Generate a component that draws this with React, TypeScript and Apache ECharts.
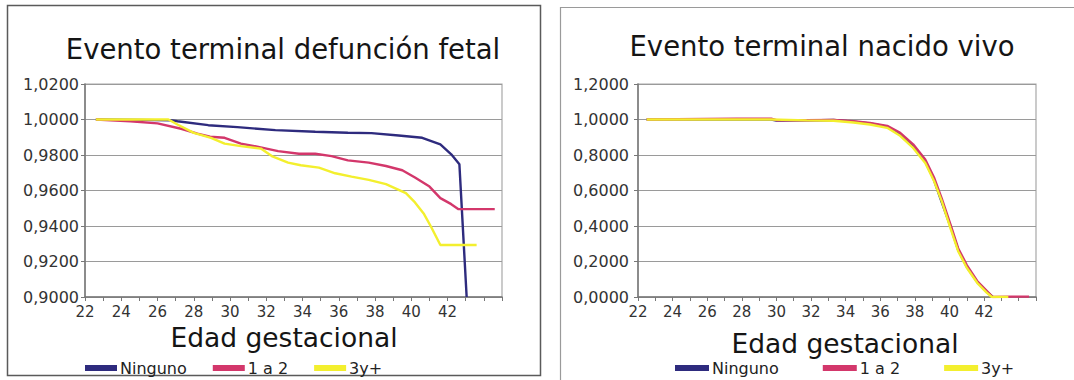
import React, { useEffect, useRef } from "react";
import * as echarts from "echarts";

// ---- Data (week of gestation, survival) ----
const seriesNames = ["Ninguno", "1 a 2", "3y+"];
const seriesColors = ["#2e2b7e", "#d3376b", "#f3ef2e"];

const xTickLabels = [22, 24, 26, 28, 30, 32, 34, 36, 38, 40, 42];

// Evento terminal defunción fetal
const fetalNinguno: [number, number][] = [
  [22.6, 1.0], [25.0, 0.9998], [26.8, 0.9995], [27.1, 0.999], [28.8, 0.9968],
  [30.4, 0.9957], [32.5, 0.994], [34.7, 0.9931], [36.5, 0.9925], [37.8, 0.9923],
  [39.3, 0.991], [40.6, 0.9897], [41.6, 0.986], [42.2, 0.9804], [42.65, 0.9748],
  [43.05, 0.9],
];
const fetal1a2: [number, number][] = [
  [22.6, 1.0], [24.5, 0.999], [26.0, 0.9978], [27.3, 0.9948], [28.2, 0.992],
  [28.9, 0.9903], [29.7, 0.9897], [30.6, 0.9864], [31.5, 0.9847], [32.65, 0.9822],
  [33.8, 0.9807], [34.7, 0.9807], [35.6, 0.9794], [36.5, 0.977], [37.65, 0.9757],
  [38.6, 0.9738], [39.5, 0.9714], [40.2, 0.9673], [41.0, 0.9622], [41.6, 0.9557],
  [42.2, 0.9523], [42.6, 0.9495], [44.6, 0.9495],
];
const fetal3ymas: [number, number][] = [
  [22.6, 1.0], [26.6, 1.0], [27.1, 0.9972], [28.0, 0.9925], [28.95, 0.9897],
  [29.7, 0.9864], [30.6, 0.985], [31.7, 0.9836], [32.3, 0.9794], [33.2, 0.9757],
  [33.9, 0.9742], [34.9, 0.9729], [35.8, 0.9697], [36.7, 0.9678], [37.65, 0.966],
  [38.6, 0.9636], [39.3, 0.9604], [39.7, 0.9585], [40.2, 0.9533], [40.7, 0.9467],
  [41.1, 0.9393], [41.6, 0.9293], [43.6, 0.9293],
];

// Evento terminal nacido vivo
const vivoNinguno: [number, number][] = [
  [22.5, 1.0], [29.7, 1.0], [30.0, 0.994], [31.75, 0.995], [33.3, 0.997],
  [34.45, 0.988], [35.4, 0.978], [36.4, 0.96], [37.15, 0.92], [37.9, 0.85],
  [38.6, 0.765], [39.1, 0.66], [39.55, 0.535], [40.05, 0.4], [40.5, 0.265],
  [41.0, 0.17], [41.6, 0.085], [42.15, 0.03], [42.5, 0.0],
];
const vivo1a2: [number, number][] = [
  [22.5, 1.0], [27.7, 1.005], [29.7, 1.005], [30.0, 0.996], [31.75, 0.996],
  [33.3, 0.998], [34.45, 0.99], [35.4, 0.98], [36.4, 0.964], [37.15, 0.925],
  [37.9, 0.86], [38.6, 0.775], [39.1, 0.675], [39.55, 0.555], [40.05, 0.41],
  [40.5, 0.275], [41.0, 0.18], [41.6, 0.09], [42.15, 0.035], [42.5, 0.0],
  [43.6, 0.002], [44.6, 0.002],
];
const vivo3ymas: [number, number][] = [
  [22.5, 1.0], [27.7, 1.0], [29.7, 1.0], [31.75, 0.995], [33.3, 0.993],
  [34.45, 0.983], [35.4, 0.972], [36.4, 0.953], [37.15, 0.908], [37.9, 0.84],
  [38.6, 0.755], [39.1, 0.655], [39.55, 0.54], [40.05, 0.39], [40.5, 0.258],
  [41.0, 0.165], [41.6, 0.08], [42.15, 0.025], [42.45, 0.0], [43.4, 0.0],
];

const titles = ["Evento terminal defunción fetal", "Evento terminal nacido vivo"];
const axisTitle = "Edad gestacional";

const FONT = "DejaVu Sans";

export default function App() {
  const ref = useRef<HTMLDivElement>(null);

  useEffect(() => {
    document.body.style.margin = "0";
    const chart = echarts.init(ref.current!, undefined, { renderer: "svg" });

    const fmtY = (v: number) => v.toFixed(4).replace(".", ",");
    const fmtX = (v: number) =>
      xTickLabels.indexOf(Math.round(v)) >= 0 && Math.abs(v - Math.round(v)) < 1e-6
        ? String(Math.round(v))
        : "";

    const xAxisBase = (gridIndex: number) => ({
      gridIndex,
      type: "value",
      min: 22,
      max: 45,
      interval: 1,
      axisLine: { show: true, lineStyle: { color: "#777", width: 1.5 } },
      axisTick: { show: true, length: 4, lineStyle: { color: "#777", width: 1 } },
      axisLabel: { formatter: fmtX, fontSize: 15, color: "#333", fontFamily: FONT, margin: 7 },
      splitLine: { show: false },
    });

    const yAxisBase = (gridIndex: number, min: number, max: number, interval: number, margin: number) => ({
      gridIndex,
      type: "value",
      min,
      max,
      interval,
      axisLine: { show: true, lineStyle: { color: "#777", width: 1.5 } },
      axisTick: { show: true, length: 4, lineStyle: { color: "#777", width: 1 } },
      axisLabel: { formatter: fmtY, fontSize: 16, color: "#333", fontFamily: FONT, margin },
      splitLine: { show: true, lineStyle: { color: "#9a9a9a", width: 1.2 } },
    });

    const mk = (name: string, idx: number, data: [number, number][], gi: number) => ({
      name,
      type: "line",
      xAxisIndex: gi,
      yAxisIndex: gi,
      data,
      showSymbol: false,
      symbol: "none",
      color: seriesColors[idx],
      lineStyle: { width: 2.4, color: seriesColors[idx] },
      clip: true,
    });

    const legendBase = (left: number, itemWidth: number, itemGap: number) => ({
      left,
      top: 355,
      icon: "rect",
      itemWidth,
      itemHeight: 6,
      itemGap,
      data: seriesNames,
      textStyle: { fontSize: 16, fontFamily: FONT, color: "#222", padding: [0, 0, 0, -2] },
    });

    const txt = (text: string, x: number, y: number, fontSize: number) => ({
      type: "text",
      x,
      y,
      silent: true,
      style: {
        text,
        fontSize,
        fontFamily: FONT,
        fill: "#151515",
        align: "center",
        verticalAlign: "middle",
      },
    });

    chart.setOption({
      animation: false,
      backgroundColor: "#ffffff",
      textStyle: { fontFamily: FONT },
      grid: [
        { left: 85, top: 84, width: 417, height: 213, show: true, borderColor: "#a8a8a8", borderWidth: 1.2, containLabel: false },
        { left: 638, top: 84, width: 398, height: 213, show: true, borderColor: "#a8a8a8", borderWidth: 1.2, containLabel: false },
      ],
      xAxis: [xAxisBase(0), xAxisBase(1)],
      yAxis: [yAxisBase(0, 0.9, 1.02, 0.02, 6), yAxisBase(1, 0, 1.2, 0.2, 9)],
      legend: [legendBase(80, 32, 26), legendBase(670, 34, 44)],
      series: [
        mk(seriesNames[0], 0, fetalNinguno, 0),
        mk(seriesNames[1], 1, fetal1a2, 0),
        mk(seriesNames[2], 2, fetal3ymas, 0),
        mk(seriesNames[0], 0, vivoNinguno, 1),
        mk(seriesNames[1], 1, vivo1a2, 1),
        mk(seriesNames[2], 2, vivo3ymas, 1),
      ],
      graphic: [
        {
          type: "rect",
          silent: true,
          shape: { x: 7.5, y: 5.5, width: 533, height: 370 },
          style: { fill: "none", stroke: "#5a5a5a", lineWidth: 1.5 },
        },
        {
          type: "rect",
          silent: true,
          shape: { x: 560.5, y: 7.5, width: 600, height: 500 },
          style: { fill: "none", stroke: "#9a9a9a", lineWidth: 1.2 },
        },
        txt(titles[0], 283, 49, 27.5),
        txt(titles[1], 822, 46, 27.5),
        txt(axisTitle, 284, 337.5, 26.5),
        txt(axisTitle, 845, 343, 26.5),
      ],
    });

    return () => chart.dispose();
  }, []);

  return <div ref={ref} style={{ width: 1074, height: 380 }} />;
}
